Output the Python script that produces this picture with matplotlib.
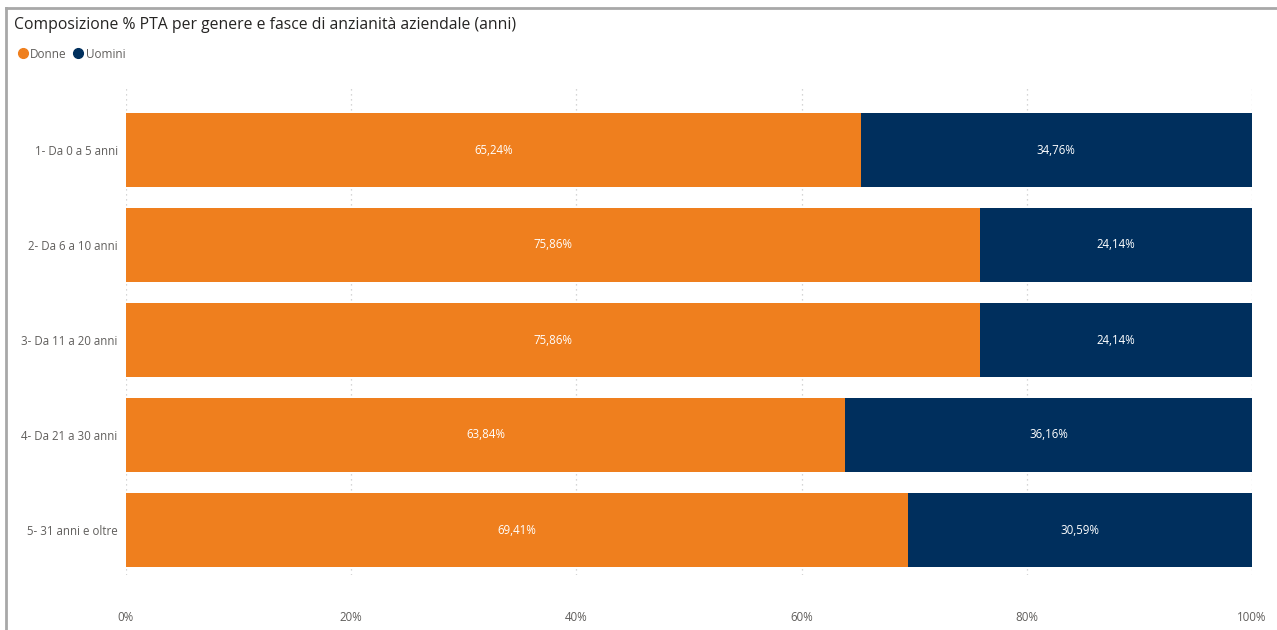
import matplotlib.pyplot as plt
from matplotlib.lines import Line2D

categories = ['1- Da 0 a 5 anni', '2- Da 6 a 10 anni', '3- Da 11 a 20 anni',
              '4- Da 21 a 30 anni', '5- 31 anni e oltre']
donne = [65.24, 75.86, 75.86, 63.84, 69.41]
uomini = [34.76, 24.14, 24.14, 36.16, 30.59]
xticks = [0, 20, 40, 60, 80, 100]

orange = '#EF7F1E'
navy = '#002F5D'
gray = '#605E5C'

plt.rcParams['font.family'] = ['Open Sans', 'DejaVu Sans']

fig = plt.figure(figsize=(12.77, 6.30), dpi=100)
ax = fig.add_axes([126 / 1277, 1 - 575 / 630, 1126 / 1277, 490 / 630])

y = list(range(len(categories)))
ax.barh(y, donne, height=0.78, color=orange, zorder=2)
ax.barh(y, uomini, left=donne, height=0.78, color=navy, zorder=2)

def fmt(v):
    return f'{v:.2f}%'.replace('.', ',')

for i in y:
    ax.text(donne[i] / 2, i, fmt(donne[i]), ha='center', va='center',
            color='white', fontsize=8.3, zorder=3)
    ax.text(donne[i] + uomini[i] / 2, i, fmt(uomini[i]), ha='center',
            va='center', color='white', fontsize=8.3, zorder=3)

ax.set_xlim(0, 100)
ax.set_ylim(4 + 45 / 95, -65 / 95)
ax.set_yticks(y)
ax.set_yticklabels(categories, color=gray, fontsize=8.3)
ax.set_xticks(xticks)
ax.set_xticklabels([f'{t}%' for t in xticks], color=gray, fontsize=8.3)
ax.tick_params(axis='y', length=0, pad=6)
ax.tick_params(axis='x', length=0, pad=26)
ax.grid(axis='x', color='#C8C8C8', linestyle=(0, (1, 3)), linewidth=0.9, zorder=0)
for s in ax.spines.values():
    s.set_visible(False)

# title and legend
fig.text(14 / 1277, 1 - 25 / 630, 'Composizione % PTA per genere e fasce di anzianità aziendale (anni)',
         fontsize=11.3, color='#252423', va='center', ha='left')
handles = [Line2D([], [], marker='o', linestyle='', color=orange, markersize=7),
           Line2D([], [], marker='o', linestyle='', color=navy, markersize=7)]
fig.legend(handles, ['Donne', 'Uomini'], loc='center left',
           bbox_to_anchor=(10 / 1277, 1 - 54 / 630), ncol=2, frameon=False,
           fontsize=8.5, labelcolor=gray, handletextpad=0.0, columnspacing=0.4,
           handlelength=1.2, borderpad=0)

# frame lines of the visual
fig.add_artist(Line2D([6 / 1277, 1], [1 - 8 / 630, 1 - 8 / 630], color='#A8A8A8', linewidth=2))
fig.add_artist(Line2D([6 / 1277, 6 / 1277], [0, 1 - 8 / 630], color='#A8A8A8', linewidth=2))

fig.savefig('out.png', dpi=100)
